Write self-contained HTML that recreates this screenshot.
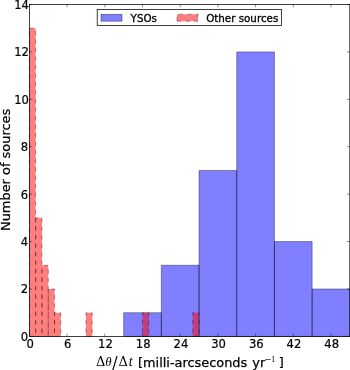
<!DOCTYPE html>
<html><head><meta charset="utf-8"><title>Histogram</title>
<style>
html,body{margin:0;padding:0;background:#fff;overflow:hidden;}
svg{display:block;}
text{font-family:"DejaVu Sans","Liberation Sans",sans-serif;fill:#000;stroke:#000;stroke-width:0.25px;}
.m{font-family:"DejaVu Serif","Liberation Serif",serif;}
.s{font-family:"Liberation Serif","DejaVu Serif",serif;}
.m,.i,.s{stroke-width:0;}
text.t{stroke-width:0.2px;}
text.l{stroke-width:0.3px;}
.i{font-family:"Liberation Serif","DejaVu Serif",serif;font-style:italic;}
</style></head>
<body>
<svg width="350" height="370" viewBox="0 0 350 370">
<rect x="0" y="0" width="350" height="370" fill="#ffffff"/>
<path d="M123.65 336.40L123.65 312.69L161.34 312.69L161.34 265.27L199.04 265.27L199.04 170.43L236.74 170.43L236.74 51.88L274.44 51.88L274.44 241.56L312.13 241.56L312.13 288.98L349.83 288.98L349.83 336.40Z" fill="#0000ff" fill-opacity="0.5"/>
<g fill="none" stroke="#000" stroke-opacity="0.5" stroke-width="0.72">
<path d="M123.65 336.40L161.34 336.40L161.34 312.69L123.65 312.69Z"/>
<path d="M161.34 336.40L199.04 336.40L199.04 265.27L161.34 265.27Z"/>
<path d="M199.04 336.40L236.74 336.40L236.74 170.43L199.04 170.43Z"/>
<path d="M236.74 336.40L274.44 336.40L274.44 51.88L236.74 51.88Z"/>
<path d="M274.44 336.40L312.13 336.40L312.13 241.56L274.44 241.56Z"/>
<path d="M312.13 336.40L349.83 336.40L349.83 288.98L312.13 288.98Z"/>
</g>
<path d="M29.40 336.40L29.40 28.17L35.68 28.17L35.68 217.85L41.97 217.85L41.97 265.27L48.25 265.27L48.25 288.98L54.53 288.98L54.53 312.69L60.81 312.69L60.81 336.40ZM85.95 336.40L85.95 312.69L92.23 312.69L92.23 336.40ZM142.49 336.40L142.49 312.69L148.78 312.69L148.78 336.40ZM192.76 336.40L192.76 312.69L199.04 312.69L199.04 336.40Z" fill="#ff0000" fill-opacity="0.5"/>
<g fill="none" stroke="#000" stroke-opacity="0.5" stroke-width="0.72" stroke-dasharray="4.260 4.260">
<path d="M29.40 336.40L35.68 336.40L35.68 28.17L29.40 28.17" stroke-dashoffset="7.62"/>
<path d="M29.40 28.17L29.40 336.40" stroke-dashoffset="4.66"/>
<path d="M35.68 336.40L41.97 336.40L41.97 217.85L35.68 217.85" stroke-dashoffset="7.62"/>
<path d="M35.68 217.85L35.68 336.40" stroke-dashoffset="0.37"/>
<path d="M41.97 336.40L48.25 336.40L48.25 265.27L41.97 265.27" stroke-dashoffset="7.62"/>
<path d="M41.97 265.27L41.97 336.40" stroke-dashoffset="5.19"/>
<path d="M48.25 336.40L54.53 336.40L54.53 288.98L48.25 288.98" stroke-dashoffset="7.62"/>
<path d="M48.25 288.98L48.25 336.40" stroke-dashoffset="7.60"/>
<path d="M54.53 336.40L60.81 336.40L60.81 312.69L54.53 312.69" stroke-dashoffset="7.62"/>
<path d="M54.53 312.69L54.53 336.40" stroke-dashoffset="1.49"/>
<path d="M85.95 336.40L92.23 336.40L92.23 312.69L85.95 312.69" stroke-dashoffset="7.62"/>
<path d="M85.95 312.69L85.95 336.40" stroke-dashoffset="1.30"/>
<path d="M142.49 336.40L148.78 336.40L148.78 312.69L142.49 312.69" stroke-dashoffset="7.62"/>
<path d="M142.49 312.69L142.49 336.40" stroke-dashoffset="1.30"/>
<path d="M192.76 336.40L199.04 336.40L199.04 312.69L192.76 312.69" stroke-dashoffset="7.62"/>
<path d="M192.76 312.69L192.76 336.40" stroke-dashoffset="1.30"/>
</g>
<g stroke="#000" stroke-width="0.45">
<line x1="29.40" y1="336.40" x2="29.40" y2="333.52"/>
<line x1="29.40" y1="4.45" x2="29.40" y2="7.33"/>
<line x1="67.10" y1="336.40" x2="67.10" y2="333.52"/>
<line x1="67.10" y1="4.45" x2="67.10" y2="7.33"/>
<line x1="104.80" y1="336.40" x2="104.80" y2="333.52"/>
<line x1="104.80" y1="4.45" x2="104.80" y2="7.33"/>
<line x1="142.49" y1="336.40" x2="142.49" y2="333.52"/>
<line x1="142.49" y1="4.45" x2="142.49" y2="7.33"/>
<line x1="180.19" y1="336.40" x2="180.19" y2="333.52"/>
<line x1="180.19" y1="4.45" x2="180.19" y2="7.33"/>
<line x1="217.89" y1="336.40" x2="217.89" y2="333.52"/>
<line x1="217.89" y1="4.45" x2="217.89" y2="7.33"/>
<line x1="255.59" y1="336.40" x2="255.59" y2="333.52"/>
<line x1="255.59" y1="4.45" x2="255.59" y2="7.33"/>
<line x1="293.29" y1="336.40" x2="293.29" y2="333.52"/>
<line x1="293.29" y1="4.45" x2="293.29" y2="7.33"/>
<line x1="330.98" y1="336.40" x2="330.98" y2="333.52"/>
<line x1="330.98" y1="4.45" x2="330.98" y2="7.33"/>
<line x1="29.40" y1="336.40" x2="32.28" y2="336.40"/>
<line x1="349.80" y1="336.40" x2="346.92" y2="336.40"/>
<line x1="29.40" y1="288.98" x2="32.28" y2="288.98"/>
<line x1="349.80" y1="288.98" x2="346.92" y2="288.98"/>
<line x1="29.40" y1="241.56" x2="32.28" y2="241.56"/>
<line x1="349.80" y1="241.56" x2="346.92" y2="241.56"/>
<line x1="29.40" y1="194.14" x2="32.28" y2="194.14"/>
<line x1="349.80" y1="194.14" x2="346.92" y2="194.14"/>
<line x1="29.40" y1="146.72" x2="32.28" y2="146.72"/>
<line x1="349.80" y1="146.72" x2="346.92" y2="146.72"/>
<line x1="29.40" y1="99.30" x2="32.28" y2="99.30"/>
<line x1="349.80" y1="99.30" x2="346.92" y2="99.30"/>
<line x1="29.40" y1="51.88" x2="32.28" y2="51.88"/>
<line x1="349.80" y1="51.88" x2="346.92" y2="51.88"/>
<line x1="29.40" y1="4.46" x2="32.28" y2="4.46"/>
<line x1="349.80" y1="4.46" x2="346.92" y2="4.46"/>
</g>
<rect x="29.40" y="4.45" width="320.40" height="331.95" fill="none" stroke="#000" stroke-width="0.75"/>
<g font-size="11.6px" text-anchor="middle">
<text class="t" x="30.10" y="348.20">0</text>
<text class="t" x="67.80" y="348.20">6</text>
<text class="t" x="105.50" y="348.20">12</text>
<text class="t" x="143.19" y="348.20">18</text>
<text class="t" x="180.89" y="348.20">24</text>
<text class="t" x="218.59" y="348.20">30</text>
<text class="t" x="256.29" y="348.20">36</text>
<text class="t" x="293.99" y="348.20">42</text>
<text class="t" x="331.68" y="348.20">48</text>
</g>
<g font-size="11.6px" text-anchor="end">
<text class="t" x="28.20" y="340.80">0</text>
<text class="t" x="28.20" y="293.38">2</text>
<text class="t" x="28.20" y="245.96">4</text>
<text class="t" x="28.20" y="198.54">6</text>
<text class="t" x="28.20" y="151.12">8</text>
<text class="t" x="29.00" y="103.70">10</text>
<text class="t" x="29.00" y="56.28">12</text>
<text class="t" x="29.00" y="8.86">14</text>
</g>
<text font-size="12.93px" text-anchor="middle" transform="translate(9.8,169.9) rotate(-90)">Number of sources</text>
<text font-size="12.9px" y="366.3"><tspan class="m" x="95.9" font-size="13px">Δ</tspan><tspan class="i" x="105.2" font-size="12.8px">θ</tspan><tspan class="m" x="112.2" dy="1.6" font-size="16px">/</tspan><tspan class="m" x="118.4" dy="-1.6" font-size="13px">Δ</tspan><tspan class="i" x="128.8" font-size="14px">t</tspan><tspan x="138.0" dy="0.2">[milli-arcseconds </tspan><tspan x="252.3">yr</tspan><tspan class="m" font-size="8.5px" x="264.5" dy="-4.9">−</tspan><tspan class="s" font-size="8.3px" x="271.0">1</tspan><tspan x="278.7" dy="4.9">]</tspan></text>
<rect x="97.2" y="9.4" width="184.3" height="16.2" fill="#fff" stroke="#000" stroke-width="0.75"/>
<rect x="101" y="14.3" width="21" height="6.9" fill="#0000ff" fill-opacity="0.5" stroke="#000" stroke-opacity="0.5" stroke-width="0.72"/>
<text class="l" font-size="10.3px" x="130.6" y="21.5">YSOs</text>
<path d="M177 21.2L198 21.2L198 14.3L177 14.3Z" fill="#ff0000" fill-opacity="0.5" stroke="#000" stroke-opacity="0.5" stroke-width="0.72" stroke-dasharray="4.28 4.28"/>
<text class="l" font-size="10.3px" x="206.2" y="21.5">Other sources</text>
</svg>
</body></html>
